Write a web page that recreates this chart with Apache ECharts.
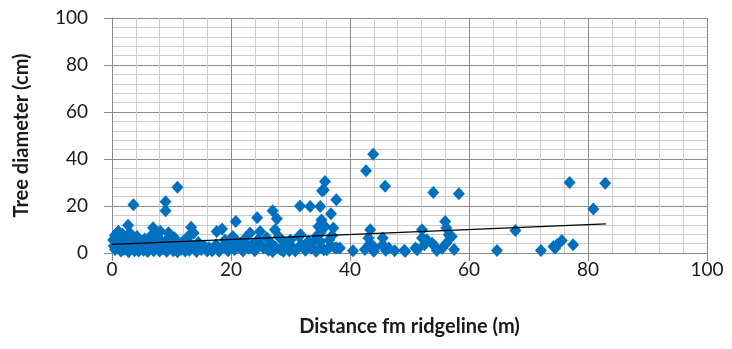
<!DOCTYPE html>
<html>
<head>
<meta charset="utf-8">
<script src="https://cdn.jsdelivr.net/npm/echarts@6/dist/echarts.min.js"></script>
<style>
  html, body { margin: 0; padding: 0; background: #fff; }
  #chart { width: 732px; height: 349px; }
</style>
</head>
<body>
<div id="chart"></div>
<script>
// Distance from ridgeline (m) and tree diameter (cm), one pair per tree
const distance = [
  3.6, 11, 9, 9, 2.7, 6.9, 13.3, 18.5, 20.8, 24.4, 27, 27.7, 27.4, 31.6, 33.3, 35.6, 35.8, 35, 35.2,
  43.9, 42.7, 45.9, 54, 58.3, 37.8, 36.8, 37.2, 43.4, 45.5, 52.1, 56, 56.2, 67.8, 64.7, 76.9, 82.9, 80.9,
  72.1, 74.8, 75.6, 74.5, 77.5, 74.2,
  37.5, 38.3, 40.5, 43.4, 43.1, 44.2, 45.5, 46.5, 49.1, 51, 52.1, 52.5, 53.8, 54.6, 56.6, 56.2, 57.1,
  52.9, 54.3, 55.5, 57.5, 47.5, 42.5, 46, 44, 49.3, 51.3,
  0.2, 0.3, 0.5, 0.5, 0.8, 1, 1, 1.2, 1.5, 1.5, 1.8, 2, 2, 2.3, 2.5, 2.8, 3, 3, 3.3, 3.5, 3.8, 4, 4.2,
  4.5, 4.8, 5, 5.3, 5.5, 5.8, 6, 6.2, 6.5, 6.8, 7, 7.2, 7.5, 7.8, 8, 8.1, 8.3, 8.6, 9, 9.2, 9.5, 9.7,
  10, 10.3, 10.5, 10.8, 11, 11.3, 11.6, 12, 12.3, 12.5, 12.8, 13, 13.2, 13.7, 14, 14.2, 14.5, 15, 15.5,
  16, 16.3, 16.8, 17, 17.6, 17.5, 18, 18.5, 19, 19, 19.5, 20, 20.3, 20.6, 21, 21.6, 22, 22.1, 22.5, 23,
  23.2, 23.5, 24, 24.5, 24.9, 25.2, 25.5, 26, 26.3, 26.8, 27, 27.5, 28, 28.3, 28.8, 29, 29.4, 29.8, 30,
  30.3, 30.8, 31.4, 31.7, 31.8, 32.2, 32.5, 33, 33.5, 33.9, 34.3, 34.5, 35, 35, 35.2, 35.6, 36.1, 36.5,
  36.8, 37, 34.7, 35.8, 35.3, 1.1, 0.6, 9.5, 8.1, 6.2, 13.7, 37.7
];
const diameter = [
  20.5, 28, 21.8, 18, 11.8, 10.7, 11, 10.2, 13.4, 15, 18, 14.6, 9.9, 20, 19.8, 26.8, 30.4, 19.8, 14,
  42, 35, 28.4, 25.7, 25.2, 2.1, 16.7, 10.6, 9.9, 6.4, 9.9, 13.4, 10.6, 9.6, 1.1, 30, 29.7, 18.7,
  1.1, 3.5, 5.3, 2.1, 3.5, 2.8,
  2.1, 2.1, 1, 4.2, 6.4, 2.1, 3.5, 2.1, 1.1, 2.1, 6.4, 3.5, 4.2, 1.1, 7.8, 4.2, 7,
  5.6, 2.8, 2, 1.5, 1, 1.5, 1.2, 0.7, 0.7, 1.4,
  5.5, 3, 1.5, 7.5, 4.5, 9, 2, 6, 0.8, 3.8, 8, 5, 1.5, 2.8, 6.8, 0.5, 4, 8.5, 2, 5.5, 1, 3, 7,
  0.8, 2.2, 4.5, 1.2, 6, 3, 0.6, 5.6, 2, 8, 1, 4, 2.8, 6.5, 0.8, 9.2, 3.5, 1.8, 5, 0.7, 8.5, 2.5,
  4, 1, 6.5, 2.2, 0.5, 3.5, 1.5, 5, 0.8, 2.5, 7, 1.2, 3.8, 8.5, 2, 0.6, 4.5, 1.5, 3,
  0.8, 2.2, 1, 1.4, 9.2, 3.5, 0.7, 2.5, 2.8, 5.5, 1, 3.5, 7, 1.5, 5, 4.2, 0.8, 4.9, 6.5, 2,
  8.5, 3.5, 1, 5.5, 9.2, 3, 2.1, 6.5, 1.2, 4, 0.6, 2.5, 7, 1.5, 0.7, 4.5, 3.5, 1, 5.5,
  2.5, 0.8, 7, 7.8, 3.5, 2.8, 1.2, 5, 2, 4.9, 0.7, 7.5, 8.5, 4.9, 2.5, 1.4, 1.4, 5.5,
  3, 7.5, 11.3, 11.3, 26.5, 9.2, 7.8, 8.5, 9.2, 5.6, 8.5, 22.7
];

// Linear trend line endpoints
const trendX = [0, 83];
const trendIntercept = 3.65;
const trendSlope = 0.105;

const xTicks = [0, 20, 40, 60, 80, 100];
const yTicks = [0, 20, 40, 60, 80, 100];

const points = distance.map((d, i) => [d, diameter[i]]);
const trend = trendX.map(x => [x, trendIntercept + trendSlope * x]);

const fontFamily = 'Lato, "Open Sans", sans-serif';
const labelFont = { fontFamily: fontFamily, fontSize: 19, color: '#1a1a1a' };
const titleFont = { fontFamily: fontFamily, fontSize: 20, fontWeight: 'bold', color: '#1a1a1a' };
const majorLine = { show: true, lineStyle: { color: '#8c8c8c', width: 1 } };
const minorLine = { show: true, lineStyle: { color: '#cccccc', width: 1 } };

const chart = echarts.init(document.getElementById('chart'), null, { renderer: 'canvas' });
chart.setOption({
  animation: false,
  backgroundColor: '#ffffff',
  grid: { left: 112, right: 25, top: 18, bottom: 96, containLabel: false },
  xAxis: {
    type: 'value',
    min: xTicks[0],
    max: xTicks[xTicks.length - 1],
    interval: 20,
    name: 'Distance fm ridgeline (m)',
    nameLocation: 'middle',
    nameGap: 64,
    nameTextStyle: titleFont,
    axisLine: { show: true, lineStyle: { color: '#8a8a8a' } },
    axisTick: { show: true, inside: false, length: 8, lineStyle: { color: '#8a8a8a' } },
    axisLabel: Object.assign({ margin: 7 }, labelFont),
    splitLine: majorLine,
    minorTick: { show: false, splitNumber: 5 },
    minorSplitLine: minorLine
  },
  yAxis: {
    type: 'value',
    min: yTicks[0],
    max: yTicks[yTicks.length - 1],
    interval: 20,
    name: 'Tree diameter (cm)',
    nameLocation: 'middle',
    nameGap: 80,
    nameTextStyle: titleFont,
    axisLine: { show: true, lineStyle: { color: '#8a8a8a' } },
    axisTick: { show: true, inside: false, length: 8, lineStyle: { color: '#8a8a8a' } },
    axisLabel: Object.assign({ margin: 24 }, labelFont),
    splitLine: majorLine,
    minorTick: { show: false, splitNumber: 5 },
    minorSplitLine: minorLine
  },
  series: [
    {
      type: 'scatter',
      data: points,
      symbol: 'diamond',
      symbolSize: [12, 13],
      itemStyle: { color: '#0070c0', opacity: 1 },
      z: 3
    },
    {
      type: 'line',
      data: trend,
      symbol: 'none',
      lineStyle: { color: '#000000', width: 1.2 },
      z: 4
    }
  ]
});
</script>
</body>
</html>
